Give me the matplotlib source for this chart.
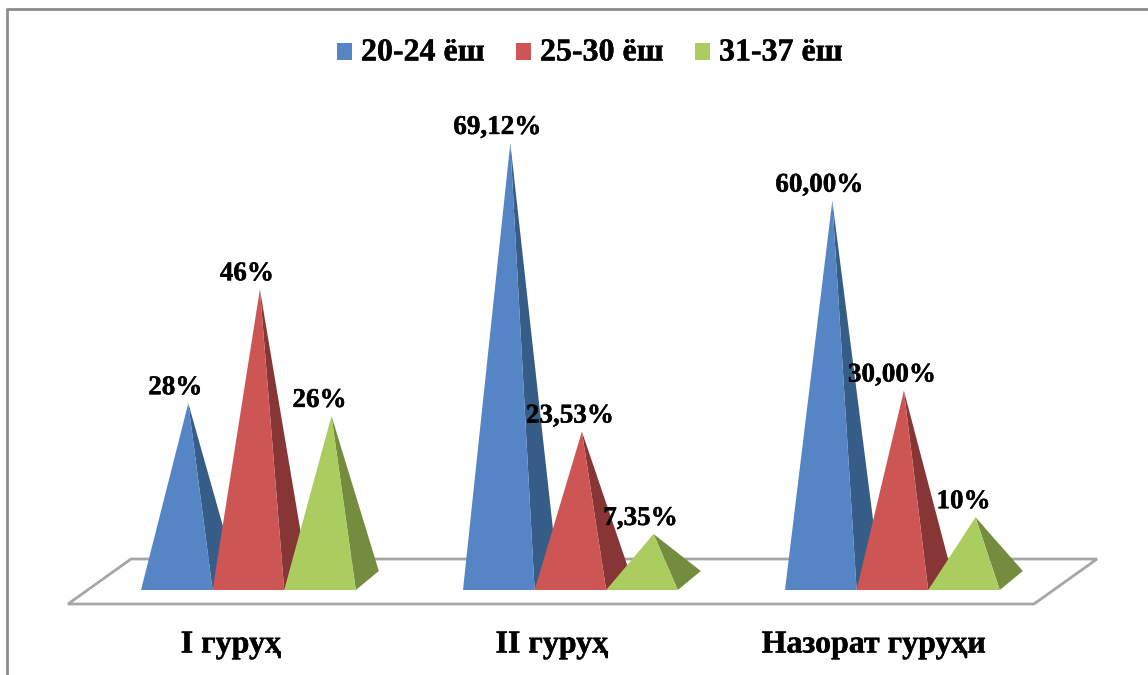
"""Пирамидальная диаграмма по возрастным группам."""
import matplotlib
matplotlib.use("Agg")
import matplotlib.patches as patches
import matplotlib.patheffects as pe
import matplotlib.pyplot as plt

plt.rcParams["font.family"] = ["Liberation Serif", "DejaVu Serif"]

groups = ["I гуруҳ", "II гуруҳ", "Назорат гуруҳи"]
series = ["20-24 ёш", "25-30 ёш", "31-37 ёш"]
age_20_24 = [28, 69.12, 60]
age_25_30 = [46, 23.53, 30]
age_31_37 = [26, 7.35, 10]
labels_20_24 = ["28%", "69,12%", "60,00%"]
labels_25_30 = ["46%", "23,53%", "30,00%"]
labels_31_37 = ["26%", "7,35%", "10%"]

FRONT = ["#5585C5", "#CD5654", "#ABCD60"]
SIDE = ["#365C88", "#873535", "#748C3E"]
EDGE = "#A6A6A6"

W, H = 1148, 675
PX_X = 71.6   # ширина пирамиды в пикселях
PX_Y = 6.33   # пикселей на один процент
X0, Y0 = 141, 590
STEP = 322 / PX_X
DEPTH_X, DEPTH_Y = 23 / PX_X, 19 / PX_Y
BOLD = [pe.withStroke(linewidth=0.3, foreground="black")]


def px_x(x):
    return (x - X0) / PX_X


def px_y(y):
    return (Y0 - y) / PX_Y


def pyramid(ax, x, value, color, dark):
    apex = (x + 0.5 + DEPTH_X / 2, value + DEPTH_Y / 2)
    # боковая грань, затем передняя
    ax.add_patch(patches.Polygon(
        [(x + 1, 0), (x + 1 + DEPTH_X, DEPTH_Y), apex],
        facecolor=dark, edgecolor="none", zorder=3))
    ax.add_patch(patches.Polygon(
        [(x, 0), (x + 1, 0), apex],
        facecolor=color, edgecolor="none", zorder=3))


fig = plt.figure(figsize=(W / 100, H / 100), dpi=100)
ax = fig.add_axes([0, 0, 1, 1])
ax.set_xlim(px_x(0), px_x(W))
ax.set_ylim(px_y(H), px_y(0))
ax.axis("off")

# Рамка диаграммы
ax.plot([px_x(7), px_x(7), px_x(W)], [px_y(H), px_y(9), px_y(9)],
        color="#8C8C8C", lw=2.0, zorder=1)

# Пол
floor = [(68, 604), (1034, 604), (1097, 559), (131, 559)]
ax.add_patch(patches.Polygon(
    [(px_x(a), px_y(b)) for a, b in floor],
    facecolor="white", edgecolor=EDGE, lw=2.0, zorder=2))

values = [age_20_24, age_25_30, age_31_37]
texts = [labels_20_24, labels_25_30, labels_31_37]
# сдвиги подписей от вершины, в пикселях
shift_x = [[-13, -13, -13], [-13, -12, -12], [-12, -13, -12]]

for s in range(3):
    for g in range(3):
        x = g * STEP + s
        pyramid(ax, x, values[s][g], FRONT[s], SIDE[s])
        ax.text(x + 0.5 + DEPTH_X / 2 + shift_x[s][g] / PX_X,
                values[s][g] + DEPTH_Y / 2 + 3 / PX_Y,
                texts[s][g], ha="center", va="bottom", fontsize=19.5,
                fontweight="bold", color="black", zorder=5,
                path_effects=BOLD)

# Подписи групп
for g, name in enumerate(groups):
    ax.text(px_x([231, 552, 874][g]), px_y(645), name, ha="center",
            va="center", fontsize=23, fontweight="bold", zorder=5,
            path_effects=BOLD)

# Легенда
for s, (sx, tx) in enumerate(zip([337, 516, 695], [361, 540, 719])):
    ax.add_patch(patches.Rectangle(
        (px_x(sx), px_y(60)), 15 / PX_X, 17 / PX_Y,
        facecolor=FRONT[s], edgecolor="none", zorder=3))
    ax.text(px_x(tx), px_y(53), series[s], ha="left", va="center",
            fontsize=23, fontweight="bold", zorder=5, path_effects=BOLD)

fig.savefig("out.png", dpi=100)
